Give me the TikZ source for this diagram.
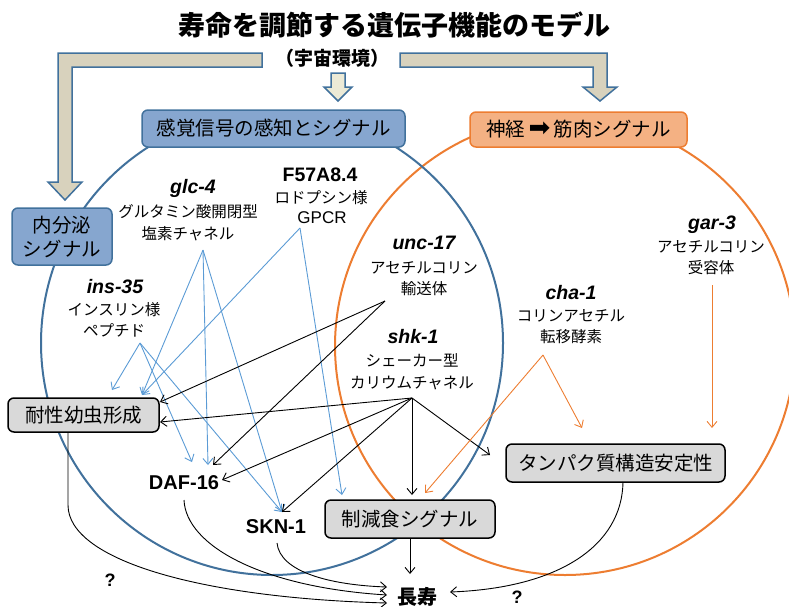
\documentclass[tikz,border=0pt]{standalone}
\usepackage{fontspec}
\setmainfont{Liberation Sans}
\newfontfamily\jp{Noto Sans CJK JP}
\newfontfamily\dv{DejaVu Sans}
\usetikzlibrary{arrows.meta}
\definecolor{boxblue}{HTML}{86A6CF}
\definecolor{darkblue}{HTML}{41719C}
\definecolor{lineblue}{HTML}{5B9BD5}
\definecolor{orangeline}{HTML}{ED7D31}
\definecolor{orangefill}{HTML}{F4B183}
\definecolor{tanfill}{HTML}{D8D2BD}
\definecolor{creamfill}{HTML}{ECEAD6}
\definecolor{grayfill}{HTML}{D9D9D9}
\begin{document}
\begin{tikzpicture}[x=1pt,y=-1pt,
  bluebox/.style={draw=darkblue, fill=boxblue, line width=1.5pt, rounded corners=6pt, inner sep=0pt, align=center, font=\jp\fontsize{19.5}{24}\selectfont},
  orangebox/.style={draw=orangeline, fill=orangefill, line width=1.5pt, rounded corners=6pt, inner sep=0pt, font=\jp\fontsize{19.5}{24}\selectfont},
  graybox/.style={draw=black, fill=grayfill, line width=1.5pt, rounded corners=6pt, inner sep=0pt, font=\jp\fontsize{19.5}{24}\selectfont},
  genename/.style={inner sep=0pt, font=\fontsize{19.5}{22}\selectfont\bfseries\itshape},
  gdesc/.style={inner sep=0pt, align=center, font=\jp\fontsize{15.5}{21.5}\selectfont},
  outcome/.style={inner sep=0pt, font=\fontsize{20}{22}\selectfont\bfseries},
  fatarrow/.style={draw=darkblue, line width=1.5pt, line join=miter},
  bluearr/.style={draw=lineblue, line width=0.9pt, -{Straight Barb[length=6pt,width=10pt]}},
  blackarr/.style={draw=black, line width=0.9pt, -{Straight Barb[length=6pt,width=10pt]}},
  orangearr/.style={draw=orangeline, line width=0.9pt, -{Straight Barb[length=6pt,width=10pt]}}
]
\useasboundingbox (0,0) rectangle (789,606);

% big regions
\draw[orangeline, line width=2pt] (565,346) ellipse [x radius=230, y radius=229];
\draw[darkblue, line width=2pt] (272,343) ellipse [x radius=231, y radius=232];

% title and environment
\node[inner sep=0pt, font=\jp\bfseries\fontsize{27}{30}\selectfont] (title) at (394,25) {寿命を調節する遺伝子機能のモデル};
\node[inner sep=0pt, font=\jp\bfseries\fontsize{19}{22}\selectfont] (env) at (332,58) {（宇宙環境）};

% fat arrows
\path[fatarrow, fill=tanfill] (262,53) -- (58,53) -- (58,182) -- (48,182) -- (65,200) -- (82,182) -- (72,182) -- (72,67) -- (262,67) -- cycle;
\path[fatarrow, fill=tanfill] (400,53) -- (607,53) -- (607,87) -- (617,87) -- (600,101) -- (583,87) -- (593,87) -- (593,67) -- (400,67) -- cycle;
\path[fatarrow, fill=creamfill] (331,73) -- (331,87) -- (324,87) -- (338,101) -- (352,87) -- (345,87) -- (345,73) -- cycle;

% category boxes
\node[bluebox, minimum width=263pt, minimum height=37pt] (sense) at (273.5,128.5) {感覚信号の感知とシグナル};
\node[orangebox, minimum width=217pt, minimum height=35pt] (neuro) at (578.5,129.5) {神経\,{\dv\fontsize{26}{26}\selectfont ➡}\,筋肉シグナル};
\node[bluebox, minimum width=100pt, minimum height=57pt] (endo) at (62,236.5) {内分泌\\シグナル};

% gene labels
\node[genename] (glcn) at (193,188) {glc-4};
\node[gdesc] (glcd) at (188,222.5) {グルタミン酸開閉型\\塩素チャネル};
\node[inner sep=0pt, font=\fontsize{19.5}{22}\selectfont\bfseries] (f57n) at (320,175) {F57A8.4};
\node[gdesc] (f57d) at (321,198) {ロドプシン様};
\node[inner sep=0pt, font=\fontsize{17}{20}\selectfont] (f57g) at (322,218) {GPCR};
\node[genename] (insn) at (115,287) {ins-35};
\node[gdesc] (insd) at (114,320) {インスリン様\\ペプチド};
\node[genename] (uncn) at (424,243) {unc-17};
\node[gdesc] (uncd) at (424,278.5) {アセチルコリン\\輸送体};
\node[genename] (shkn) at (413,337) {shk-1};
\node[gdesc] (shkd) at (412,371.5) {シェーカー型\\カリウムチャネル};
\node[genename] (chan) at (571,293) {cha-1};
\node[gdesc] (chad) at (571,326.5) {コリンアセチル\\転移酵素};
\node[genename] (garn) at (712,225) {gar-3};
\node[gdesc] (gard) at (711,257.5) {アセチルコリン\\受容体};

% outcome boxes and labels
\node[graybox, minimum width=151pt, minimum height=34pt] (dauer) at (83.5,415) {耐性幼虫形成};
\node[graybox, minimum width=170pt, minimum height=38pt] (dr) at (410,519) {制減食シグナル};
\node[graybox, minimum width=219pt, minimum height=38pt] (prot) at (615.5,463) {タンパク質構造安定性};
\node[outcome] (daf) at (184,483) {DAF-16};
\node[outcome] (skn) at (276,527) {SKN-1};
\node[inner sep=0pt, font=\jp\bfseries\fontsize{20}{22}\selectfont] (long) at (417,597) {長寿};
\node[inner sep=0pt, font=\fontsize{18}{20}\selectfont\bfseries] (q1) at (110,580) {?};
\node[inner sep=0pt, font=\fontsize{18}{20}\selectfont\bfseries] (q2) at (517,597) {?};

% source points
\coordinate (glcS) at (203,250);
\coordinate (insS) at (140,343);
\coordinate (f57S) at (300,228);
\coordinate (uncS) at (385,301);
\coordinate (shkS) at (412,398);
\coordinate (chaS) at (543,355);
\coordinate (garS) at (712,285);
\coordinate (dauerS) at (68,432);
\coordinate (dafS) at (184,500);
\coordinate (sknS) at (277,543);
\coordinate (drS) at (410,538);
\coordinate (protS) at (623,482);
% arrow tips
\coordinate (tR1) at (112,390);
\coordinate (tR2) at (142,395);
\coordinate (tR3) at (160,402);
\coordinate (tR4) at (160,422);
\coordinate (tD1) at (192,462);
\coordinate (tD2) at (208,465);
\coordinate (tD3) at (213,465);
\coordinate (tD4) at (222,480);
\coordinate (tS) at (282,512);
\coordinate (tC1) at (342,495);
\coordinate (tC2) at (412,495);
\coordinate (tC3) at (425,493);
\coordinate (tP1) at (490,455);
\coordinate (tP2) at (582,428);
\coordinate (tP3) at (712,428);
\coordinate (tL1) at (387,603);
\coordinate (tL2) at (387,595);
\coordinate (tL3) at (387,587);
\coordinate (tL4) at (410,574);
\coordinate (tL5) at (450,592);

% blue connectors
\draw[bluearr] (insS) -- (tR1);
\draw[bluearr] (insS) -- (tD1);
\draw[bluearr] (insS) -- (tS);
\draw[bluearr] (glcS) -- (tR2);
\draw[bluearr] (glcS) -- (tD2);
\draw[bluearr] (glcS) -- (tS);
\draw[bluearr] (f57S) -- (tR2);
\draw[bluearr] (f57S) -- (tC1);
% black connectors
\draw[blackarr] (uncS) -- (tR3);
\draw[blackarr] (uncS) -- (tD3);
\draw[blackarr] (shkS) -- (tR4);
\draw[blackarr] (shkS) -- (tD4);
\draw[blackarr] (shkS) -- (tS);
\draw[blackarr] (shkS) -- (tC2);
\draw[blackarr] (shkS) -- (tP1);
% orange connectors
\draw[orangearr] (chaS) -- (tC3);
\draw[orangearr] (chaS) -- (tP2);
\draw[orangearr] (garS) -- (tP3);
% to longevity
\draw[blackarr] (dauerS) -- (68,505) .. controls (68,560) and (200,598) .. (tL1);
\draw[blackarr] (dafS) .. controls (186,545) and (260,587) .. (tL2);
\draw[blackarr] (sknS) .. controls (280,572) and (330,585) .. (tL3);
\draw[blackarr] (drS) -- (tL4);
\draw[blackarr] (protS) .. controls (622,545) and (560,588) .. (tL5);
\end{tikzpicture}
\end{document}
